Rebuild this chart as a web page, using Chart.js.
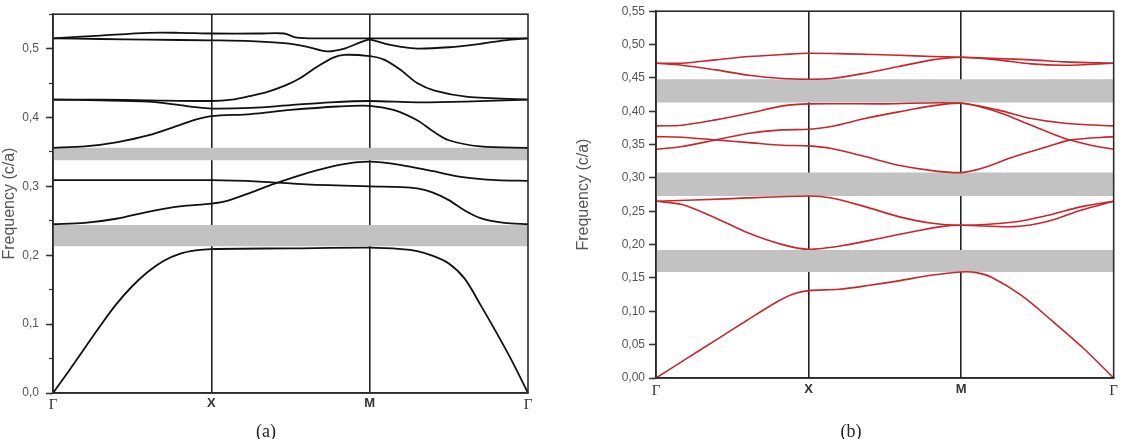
<!DOCTYPE html>
<html>
<head>
<meta charset="utf-8">
<script src="https://cdn.jsdelivr.net/npm/chart.js@4.4.1/dist/chart.umd.min.js"></script>
<style>
  html, body { margin: 0; padding: 0; background: #fff; }
  #wrap { position: relative; width: 1122px; height: 439px; overflow: hidden; }
  .panel { position: absolute; top: 0; height: 439px; }
  #pa { left: 0; width: 560px; }
  #pb { left: 560px; width: 562px; }
  .cap { position: absolute; top: 422px; font: 18px "Liberation Serif", serif; color: #222; transform: translateX(-50%); line-height: 1; }
</style>
</head>
<body>
<div id="wrap">
  <div class="panel" id="pa"><canvas id="ca" width="560" height="439"></canvas></div>
  <div class="panel" id="pb"><canvas id="cb" width="562" height="439"></canvas></div>
  <div class="cap" style="left:266px">(a)</div>
  <div class="cap" style="left:851px">(b)</div>
</div>
<script>
// k-path: Γ -> X -> M -> Γ, each segment one unit wide
const path = ["Γ", "X", "M", "Γ"];

// panel (a), frequencies as [k, f]
const a1 = [[0,0],[0.1,0.032],[0.2,0.065],[0.3,0.098],[0.4,0.129],[0.5,0.155],[0.6,0.176],[0.7,0.192],[0.8,0.202],[0.9,0.207],[1,0.209],[1.5,0.21],[2,0.211],[2.2,0.209],[2.3,0.206],[2.4,0.199],[2.5,0.188],[2.6,0.166],[2.7,0.128],[2.8,0.088],[2.9,0.046],[3,0]];
const a2 = [[0,0.245],[0.2,0.247],[0.4,0.253],[0.6,0.263],[0.8,0.271],[1,0.275],[1.1,0.279],[1.25,0.291],[1.4,0.304],[1.6,0.319],[1.8,0.331],[2,0.336],[2.2,0.331],[2.4,0.322],[2.6,0.313],[2.8,0.309],[3,0.308]];
const a3 = [[0,0.309],[0.5,0.309],[1,0.309],[1.3,0.307],[1.6,0.303],[2,0.3],[2.2,0.299],[2.3,0.297],[2.4,0.291],[2.5,0.28],[2.6,0.265],[2.7,0.254],[2.85,0.247],[3,0.245]];
const a4 = [[0,0.356],[0.2,0.358],[0.4,0.364],[0.6,0.374],[0.8,0.389],[0.9,0.397],[1,0.402],[1.25,0.405],[1.5,0.411],[1.8,0.416],[2,0.417],[2.15,0.411],[2.3,0.396],[2.4,0.38],[2.5,0.367],[2.7,0.358],[3,0.356]];
const a5 = [[0,0.426],[0.3,0.425],[0.6,0.423],[0.8,0.418],[0.9,0.415],[1,0.413],[1.25,0.414],[1.5,0.418],[1.75,0.422],[2,0.424],[2.3,0.422],[2.6,0.423],[3,0.426]];
const a6 = [[0,0.426],[0.3,0.426],[0.6,0.425],[1,0.424],[1.13,0.426],[1.24,0.431],[1.35,0.437],[1.46,0.446],[1.56,0.457],[1.67,0.474],[1.77,0.487],[1.84,0.491],[2,0.489],[2.09,0.484],[2.19,0.47],[2.3,0.45],[2.41,0.439],[2.62,0.43],[3,0.426]];
const a7 = [[0,0.515],[0.3,0.519],[0.6,0.523],[0.8,0.523],[1,0.522],[1.3,0.522],[1.46,0.522],[1.54,0.516],[1.7,0.515],[2,0.515],[2.5,0.515],[3,0.515]];
const a8 = [[0,0.515],[0.3,0.514],[0.6,0.513],[1,0.512],[1.25,0.511],[1.46,0.508],[1.6,0.503],[1.73,0.496],[1.84,0.5],[1.94,0.509],[2,0.513],[2.1,0.507],[2.19,0.503],[2.3,0.5],[2.5,0.502],[2.7,0.507],[2.85,0.512],[3,0.515]];
const aGaps = [[0.213, 0.244], [0.338, 0.356]];

// panel (b)
const b1 = [[0,0],[0.2,0.029],[0.4,0.058],[0.6,0.087],[0.8,0.115],[0.9,0.126],[1,0.131],[1.2,0.133],[1.4,0.139],[1.6,0.146],[1.8,0.154],[2,0.159],[2.1,0.158],[2.2,0.151],[2.4,0.123],[2.6,0.085],[2.8,0.045],[3,0]];
const b2 = [[0,0.265],[0.5,0.269],[1,0.273],[1.15,0.27],[1.37,0.257],[1.59,0.242],[1.81,0.232],[2,0.229],[2.35,0.234],[2.57,0.244],[2.79,0.257],[3,0.265]];
const b3 = [[0,0.265],[0.17,0.26],[0.39,0.24],[0.61,0.217],[0.83,0.2],[1,0.193],[1.26,0.2],[1.48,0.21],[1.7,0.22],[1.87,0.227],[2,0.229],[2.35,0.227],[2.57,0.235],[2.79,0.252],[3,0.265]];
const b4 = [[0,0.343],[0.17,0.347],[0.39,0.357],[0.61,0.367],[0.83,0.372],[1,0.373],[1.15,0.377],[1.37,0.389],[1.59,0.399],[1.81,0.408],[2,0.412],[2.24,0.402],[2.46,0.389],[2.68,0.382],[3,0.378]];
const b5 = [[0,0.362],[0.17,0.361],[0.39,0.357],[0.61,0.353],[0.83,0.349],[1,0.348],[1.15,0.344],[1.37,0.332],[1.59,0.319],[1.81,0.311],[2,0.308],[2.13,0.314],[2.35,0.332],[2.57,0.347],[2.72,0.357],[3,0.362]];
const b6 = [[0,0.378],[0.17,0.379],[0.39,0.387],[0.61,0.397],[0.83,0.408],[1,0.411],[1.5,0.411],[2,0.412],[2.24,0.399],[2.46,0.379],[2.68,0.359],[2.85,0.349],[3,0.343]];
const b7 = [[0,0.472],[0.17,0.472],[0.39,0.477],[0.61,0.482],[0.83,0.485],[1,0.487],[1.26,0.486],[1.59,0.484],[1.81,0.482],[2,0.481],[2.24,0.479],[2.46,0.477],[2.68,0.474],[3,0.472]];
const b8 = [[0,0.472],[0.17,0.469],[0.39,0.462],[0.61,0.454],[0.83,0.449],[1,0.448],[1.15,0.449],[1.37,0.457],[1.59,0.467],[1.81,0.477],[2,0.481],[2.24,0.477],[2.46,0.471],[2.68,0.469],[3,0.472]];
const bGaps = [[0.159, 0.192], [0.273, 0.308], [0.413, 0.448]];

Chart.defaults.font.family = "'Liberation Sans', Arial, sans-serif";

// plain frame round the plot area
const framePlugin = {
  id: "frame",
  afterDatasetsDraw(chart) {
    const { ctx, chartArea: a } = chart;
    ctx.save();
    ctx.strokeStyle = "#2b2b2b";
    ctx.lineWidth = 1.6;
    ctx.strokeRect(a.left, a.top, a.right - a.left, a.bottom - a.top);
    ctx.restore();
  },
};

function makePanel(canvasId, cfg) {
  const datasets = cfg.bands.map((pts) => ({
    data: pts.map(([x, y]) => ({ x, y })),
    borderColor: cfg.lineColor,
    borderWidth: cfg.lineWidth,
    pointRadius: 0,
    fill: false,
    tension: 0.3,
    order: 1,
  }));
  // gap bands: top edge filled down to bottom edge
  for (const [lo, hi] of cfg.gaps) {
    datasets.push({
      data: [{ x: 0, y: hi }, { x: 3, y: hi }],
      borderWidth: 0,
      pointRadius: 0,
      backgroundColor: "#c2c2c2",
      fill: "+1",
      order: 2,
    });
    datasets.push({
      data: [{ x: 0, y: lo }, { x: 3, y: lo }],
      borderWidth: 0,
      pointRadius: 0,
      fill: false,
      order: 2,
    });
  }

  const isMajor = (v) => Math.abs(v / cfg.major - Math.round(v / cfg.major)) < 1e-6;

  return new Chart(document.getElementById(canvasId), {
    type: "line",
    data: { datasets },
    plugins: [framePlugin],
    options: {
      responsive: false,
      animation: false,
      events: [],
      layout: { padding: cfg.padding },
      plugins: { legend: { display: false }, tooltip: { enabled: false } },
      scales: {
        x: {
          type: "linear",
          min: 0,
          max: 3,
          afterFit: (s) => { s.height = 30; },
          ticks: {
            stepSize: 1,
            padding: cfg.xPad,
            color: "#333",
            callback: (v) => path[v] ?? "",
            font: (ctx) => (ctx.index === 1 || ctx.index === 2)
              ? { family: "'Liberation Sans', Arial, sans-serif", size: 13, weight: "bold" }
              : { family: "'Liberation Serif', serif", size: 15 },
          },
          grid: {
            drawTicks: false,
            lineWidth: 1.6,
            color: (ctx) => (ctx.tick && (ctx.tick.value === 1 || ctx.tick.value === 2))
              ? "#222" : "rgba(0,0,0,0)",
          },
          border: { display: true, color: "#2b2b2b", width: 1.6 },
        },
        y: {
          type: "linear",
          position: "left",
          min: 0,
          max: 0.55,
          weight: 2,
          afterFit: (s) => { s.width = cfg.yWidth; },
          afterBuildTicks: (s) => { s.ticks = s.ticks.filter((t) => isMajor(t.value)); },
          ticks: {
            stepSize: cfg.major,
            padding: cfg.yPad,
            color: "#555",
            font: { size: 12 },
            callback: (v) => v.toFixed(cfg.digits).replace(".", ","),
          },
          grid: {
            drawOnChartArea: false,
            tickLength: 7,
            tickColor: "#333",
            tickWidth: 1.5,
          },
          border: { display: true, color: "#2b2b2b", width: 1.6 },
          title: {
            display: true,
            text: "Frequency (c/a)",
            color: "#555",
            font: { size: 16 },
            padding: { top: cfg.titlePad, bottom: 0 },
          },
        },
        // minor ticks only, zero width so they sit on the axis line
        yMinor: {
          type: "linear",
          position: "left",
          min: 0,
          max: 0.55,
          weight: 0,
          afterFit: (s) => { s.width = 0; },
          ticks: { stepSize: cfg.minor, callback: () => "" },
          grid: {
            drawOnChartArea: false,
            tickLength: 4,
            tickColor: "#333",
            tickWidth: 1.2,
          },
          border: { display: false },
        },
      },
    },
  });
}

makePanel("ca", {
  bands: [a1, a2, a3, a4, a5, a6, a7, a8],
  gaps: aGaps,
  lineColor: "#111",
  lineWidth: 1.8,
  major: 0.1,
  minor: 0.05,
  digits: 1,
  yWidth: 53,
  yPad: 7,
  titlePad: 0,
  xPad: 3,
  padding: { left: 0, top: 9, right: 32, bottom: 16 },
});

makePanel("cb", {
  bands: [b1, b2, b3, b4, b5, b6, b7, b8],
  gaps: bGaps,
  lineColor: "#c8262c",
  lineWidth: 1.6,
  major: 0.05,
  minor: 0.025,
  digits: 2,
  yWidth: 96,
  yPad: 4,
  titlePad: 14,
  xPad: 4,
  padding: { left: 0, top: 11, right: 5, bottom: 31 },
});
</script>
</body>
</html>
